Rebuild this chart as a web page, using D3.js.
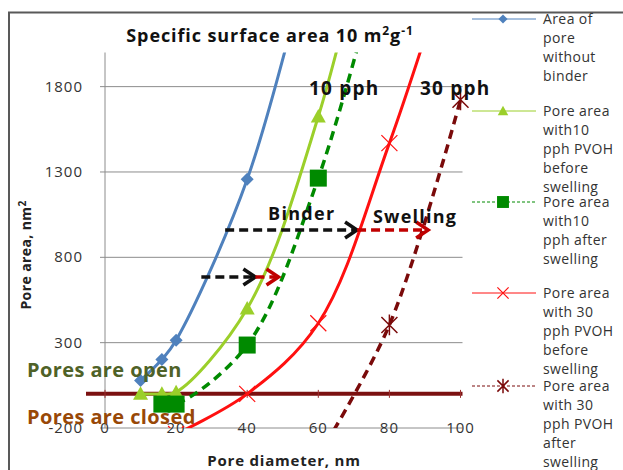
<!DOCTYPE html>
<html>
<head>
<meta charset="utf-8">
<script src="https://cdn.jsdelivr.net/npm/d3@7"></script>
<style>
  body { margin: 0; background: #fff; }
  text { font-family: "Open Sans", Lato, sans-serif; }
</style>
</head>
<body>
<div id="chart"></div>
<script>
// Pore area vs pore diameter chart

// Data
var blueX = [10, 16, 20, 40, 60];
var blueY = [78.5, 201, 314, 1257, 2780];

var lightGreenX = [10, 16, 20, 40, 60, 80];
var lightGreenY = [0, 0, 10, 500, 1625, 3300];

var darkGreenX = [16, 20, 40, 60, 80];
var darkGreenY = [-60, -60, 286, 1264, 2730];

var redX = [20, 40, 60, 80, 100];
var redY = [-235, 0, 414, 1469, 2750];

var darkRedX = [60, 80, 100];
var darkRedY = [-365, 404, 1723];

var yTicks = [-200, 300, 800, 1300, 1800];
var xTicks = [0, 20, 40, 60, 80, 100];

var legendLines = [
  ["Area of", "pore", "without", "binder"],
  ["Pore area", "with10", "pph PVOH", "before", "swelling"],
  ["Pore area", "with10", "pph after", "swelling"],
  ["Pore area", "with 30", "pph PVOH", "before", "swelling"],
  ["Pore area", "with 30", "pph PVOH", "after", "swelling"]
];

var width = 623;
var height = 470;

var svg = d3
  .select("#chart")
  .append("svg")
  .attr("width", width)
  .attr("height", height);

// scales
var xScale = d3.scaleLinear().domain([0, 100]).range([105, 460.5]);
var yScale = d3.scaleLinear().domain([-200, 2000]).range([428, 52.5]);

// outer frame (top and left edges visible)
svg.append("path")
  .attr("d", "M9,470 V12.5 H623")
  .attr("fill", "none")
  .attr("stroke", "#595959")
  .attr("stroke-width", 2);

// title
var title = svg.append("text")
  .attr("x", 270)
  .attr("y", 42)
  .attr("text-anchor", "middle")
  .attr("font-size", 18)
  .attr("font-weight", "bold")
  .attr("letter-spacing", 0.9)
  .attr("fill", "#111");
title.append("tspan").text("Specific surface area 10 m");
title.append("tspan").attr("font-size", 12).attr("dy", -7).text("2");
title.append("tspan").attr("dy", 7).text("g");
title.append("tspan").attr("font-size", 12).attr("dy", -7).text("-1");

// gridlines
svg.append("g")
  .selectAll("line")
  .data(yTicks)
  .enter()
  .append("line")
  .attr("x1", 100)
  .attr("x2", xScale(100) + 2)
  .attr("y1", function(d) { return yScale(d); })
  .attr("y2", function(d) { return yScale(d); })
  .attr("stroke", "#8c8c8c")
  .attr("stroke-width", 1);

// y axis line
svg.append("line")
  .attr("x1", xScale(0))
  .attr("x2", xScale(0))
  .attr("y1", yScale(2000))
  .attr("y2", yScale(-200))
  .attr("stroke", "#8c8c8c");

// y tick labels
svg.append("g")
  .selectAll("text")
  .data(yTicks)
  .enter()
  .append("text")
  .attr("x", 83)
  .attr("y", function(d) { return yScale(d) + 5; })
  .attr("text-anchor", "end")
  .attr("font-size", 15)
  .attr("letter-spacing", 1)
  .attr("fill", "#333")
  .text(function(d) { return d; });

// x tick labels (drawn on the axis line, like the original)
svg.append("g")
  .selectAll("text")
  .data(xTicks)
  .enter()
  .append("text")
  .attr("x", function(d) { return xScale(d); })
  .attr("y", yScale(-200) + 5)
  .attr("text-anchor", "middle")
  .attr("font-size", 15)
  .attr("letter-spacing", 1)
  .attr("fill", "#333")
  .text(function(d) { return d; });

// axis titles
svg.append("text")
  .attr("transform", "translate(31,255)rotate(-90)")
  .attr("text-anchor", "middle")
  .attr("font-size", 14)
  .attr("font-weight", "bold")
  .attr("letter-spacing", 0.4)
  .attr("fill", "#222")
  .html("Pore area, nm<tspan font-size='10' dy='-5'>2</tspan>");

svg.append("text")
  .attr("x", 284)
  .attr("y", 466)
  .attr("text-anchor", "middle")
  .attr("font-size", 15)
  .attr("font-weight", "bold")
  .attr("letter-spacing", 0.8)
  .attr("fill", "#222")
  .text("Pore diameter, nm");

// thick line at zero separating open / closed
svg.append("line")
  .attr("x1", 86)
  .attr("x2", xScale(100) + 2)
  .attr("y1", yScale(0))
  .attr("y2", yScale(0))
  .attr("stroke", "#7b1111")
  .attr("stroke-width", 4);

svg.append("g")
  .selectAll("line")
  .data(xTicks)
  .enter()
  .append("line")
  .attr("x1", function(d) { return xScale(d); })
  .attr("x2", function(d) { return xScale(d); })
  .attr("y1", yScale(0) - 4)
  .attr("y2", yScale(0) + 4)
  .attr("stroke", "#9b3030")
  .attr("stroke-width", 1);

// clip to plot
svg.append("clipPath")
  .attr("id", "plotClip")
  .append("rect")
  .attr("x", xScale(0))
  .attr("y", yScale(2000))
  .attr("width", xScale(100) - xScale(0) + 12)
  .attr("height", yScale(-200) - yScale(2000));

var plot = svg.append("g").attr("clip-path", "url(#plotClip)");

var series = [
  { xs: blueX, ys: blueY, color: "#4f81bd", dash: null, width: 3, marker: "diamond" },
  { xs: lightGreenX, ys: lightGreenY, color: "#9bcf2a", dash: null, width: 3, marker: "triangle" },
  { xs: darkGreenX, ys: darkGreenY, color: "#008a00", dash: "9,6", width: 3.5, marker: "square" },
  { xs: redX, ys: redY, color: "#ff1010", dash: null, width: 3, marker: "cross" },
  { xs: darkRedX, ys: darkRedY, color: "#7a0a0a", dash: "9,6", width: 3.5, marker: "star" }
];

var line = d3.line()
  .x(function(d) { return xScale(d[0]); })
  .y(function(d) { return yScale(d[1]); })
  .curve(d3.curveCatmullRom);

function drawMarker(g, type, cx, cy, color, s) {
  if (type === "diamond") {
    g.append("path")
      .attr("d", "M" + cx + "," + (cy - s) + "L" + (cx + s) + "," + cy + "L" + cx + "," + (cy + s) + "L" + (cx - s) + "," + cy + "Z")
      .attr("fill", color);
  } else if (type === "triangle") {
    g.append("path")
      .attr("d", "M" + cx + "," + (cy - s) + "L" + (cx + s) + "," + (cy + s * 0.8) + "L" + (cx - s) + "," + (cy + s * 0.8) + "Z")
      .attr("fill", color);
  } else if (type === "square") {
    g.append("rect")
      .attr("x", cx - s).attr("y", cy - s)
      .attr("width", 2 * s).attr("height", 2 * s)
      .attr("fill", color);
  } else if (type === "cross") {
    g.append("path")
      .attr("d", "M" + (cx - s) + "," + (cy - s) + "L" + (cx + s) + "," + (cy + s) + "M" + (cx + s) + "," + (cy - s) + "L" + (cx - s) + "," + (cy + s))
      .attr("stroke", color).attr("stroke-width", 1.2).attr("fill", "none");
  } else if (type === "star") {
    g.append("path")
      .attr("d", "M" + (cx - s) + "," + (cy - s) + "L" + (cx + s) + "," + (cy + s) + "M" + (cx + s) + "," + (cy - s) + "L" + (cx - s) + "," + (cy + s) + "M" + cx + "," + (cy - s * 1.3) + "L" + cx + "," + (cy + s * 1.3))
      .attr("stroke", color).attr("stroke-width", 1.5).attr("fill", "none");
  }
}

var markerSize = { diamond: 6.5, triangle: 7.5, square: 8.5, cross: 8, star: 8 };

series.forEach(function(s) {
  var pts = s.xs.map(function(x, i) { return [x, s.ys[i]]; });
  plot.append("path")
    .datum(pts)
    .attr("d", line)
    .attr("fill", "none")
    .attr("stroke", s.color)
    .attr("stroke-width", s.width)
    .attr("stroke-dasharray", s.dash);
  pts.forEach(function(p) {
    drawMarker(plot, s.marker, xScale(p[0]), yScale(p[1]), s.color, markerSize[s.marker]);
  });
});

// arrows (diameter from, to binder, to swelling, at pore area)
var arrowRows = [
  [33.8, 70.9, 90.9, 960],
  [27.1, 42.3, 48.8, 685]
];

function chevron(x, y, color) {
  svg.append("path")
    .attr("d", "M" + (x - 12) + "," + (y - 8) + "L" + x + "," + y + "L" + (x - 12) + "," + (y + 8))
    .attr("fill", "none")
    .attr("stroke", color)
    .attr("stroke-width", 3.5);
}

arrowRows.forEach(function(a) {
  var y = yScale(a[3]);
  svg.append("line")
    .attr("x1", xScale(a[0])).attr("x2", xScale(a[1]) - 2)
    .attr("y1", y).attr("y2", y)
    .attr("stroke", "#111").attr("stroke-width", 3.5)
    .attr("stroke-dasharray", "9,5");
  chevron(xScale(a[1]), y, "#111");
  svg.append("line")
    .attr("x1", xScale(a[1])).attr("x2", xScale(a[2]) - 2)
    .attr("y1", y).attr("y2", y)
    .attr("stroke", "#c00000").attr("stroke-width", 3.5)
    .attr("stroke-dasharray", "9,5");
  chevron(xScale(a[2]), y, "#c00000");
});

// annotation text
function label(txt, x, y, size, color, ls) {
  svg.append("text")
    .attr("x", x).attr("y", y)
    .attr("font-size", size)
    .attr("font-weight", "bold")
    .attr("letter-spacing", ls)
    .attr("fill", color)
    .text(txt);
}
label("10 pph", 309, 95, 19, "#111", 1.2);
label("30 pph", 420, 95, 19, "#111", 1.2);
label("Binder", 268, 220, 18, "#111", 1.3);
label("Swelling", 373, 223, 18, "#111", 1.2);
label("Pores are open", 27, 377, 20, "#4f6228", 0.4);
label("Pores are closed", 27, 424, 20, "#984807", 0.4);

// legend
var legendTop = [19, 111, 202, 293, 386];
var legend = svg.append("g");
series.forEach(function(s, i) {
  var y = legendTop[i];
  legend.append("line")
    .attr("x1", 472).attr("x2", 536)
    .attr("y1", y).attr("y2", y)
    .attr("stroke", s.color)
    .attr("stroke-width", 1)
    .attr("stroke-dasharray", s.dash ? "3,2" : null);
  drawMarker(legend, s.marker, 503, y, s.color, markerSize[s.marker] * 0.7);
  legendLines[i].forEach(function(t, j) {
    legend.append("text")
      .attr("x", 543)
      .attr("y", y + 5 + j * 19)
      .attr("font-size", 14)
      .attr("letter-spacing", 0.4)
      .attr("fill", "#333")
      .text(t);
  });
});
</script>
</body>
</html>
